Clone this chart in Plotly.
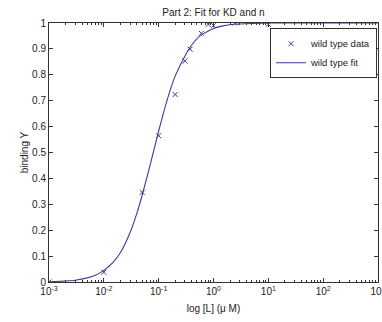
import plotly.graph_objects as go

# measured data (wild type)
data_L = [0.001, 0.01, 0.05, 0.1, 0.2, 0.3, 0.375, 0.6, 0.8, 1.0, 2.5, 10]
data_Y = [0.0, 0.038, 0.346, 0.565, 0.724, 0.853, 0.899, 0.96, 0.995, 0.99, 1.0, 0.995]

# fitted curve
fit_L = [0.001, 0.002, 0.003, 0.005, 0.007, 0.01, 0.015, 0.02, 0.03, 0.04, 0.05, 0.07,
         0.1, 0.15, 0.2, 0.3, 0.4, 0.6, 1, 1.5, 2, 3, 5, 10, 100, 1000]
fit_Y = [0.001, 0.004, 0.007, 0.016, 0.026, 0.045, 0.078, 0.113, 0.19, 0.265, 0.335, 0.452,
         0.583, 0.718, 0.795, 0.872, 0.915, 0.954, 0.979, 0.989, 0.993, 0.996, 0.998, 1.0, 1.0, 1.0]

x_tickvals = [1e-3, 1e-2, 1e-1, 1, 10, 100, 1000]
x_ticktext = ["10<sup>-3</sup>", "10<sup>-2</sup>", "10<sup>-1</sup>", "10<sup>0</sup>",
              "10<sup>1</sup>", "10<sup>2</sup>", "10<sup>3</sup>"]
y_tickvals = [0, 0.1, 0.2, 0.3, 0.4, 0.5, 0.6, 0.7, 0.8, 0.9, 1]
y_ticktext = ["0", "0.1", "0.2", "0.3", "0.4", "0.5", "0.6", "0.7", "0.8", "0.9", "1"]

minor_vals = [m * d for d in [1e-3, 1e-2, 1e-1, 1, 10, 100] for m in range(2, 10)]

color = "#3b3b9c"
font = "Liberation Sans, Arial, sans-serif"

fig = go.Figure()
fig.add_trace(go.Scatter(x=data_L, y=data_Y, mode="markers", name="wild type data",
                         marker=dict(symbol="x-thin", size=5, line=dict(color=color, width=1), color=color)))
fig.add_trace(go.Scatter(x=fit_L, y=fit_Y, mode="lines", name="wild type fit",
                         line=dict(color=color, width=1.1, shape="spline", smoothing=0.5)))

fig.update_layout(
    width=382, height=322,
    margin=dict(l=49, r=4, t=23, b=40, autoexpand=False),
    paper_bgcolor="white", plot_bgcolor="white",
    font=dict(family=font, size=10, color="#222"),
    title=dict(text="Part 2: Fit for KD and n", x=0.5, xref="paper", xanchor="center",
               yref="container", y=1 - 12/322, yanchor="middle", font=dict(size=10, color="#222")),
    showlegend=True,
    legend=dict(x=0.997, xanchor="right", y=0.98, yanchor="top", bgcolor="white",
                bordercolor="#333", borderwidth=1, font=dict(size=9.5, color="#222"),
                itemwidth=30, tracegroupgap=0),
)
fig.update_xaxes(type="log", range=[-3, 3], tickvals=x_tickvals, ticktext=x_ticktext,
                 ticks="inside", ticklen=4, tickcolor="#333", showline=True, linecolor="#333",
                 linewidth=1, mirror="ticks", showgrid=False, zeroline=False, automargin=False,
                 tickfont=dict(size=10), ticklabeloverflow="allow",
                 minor=dict(tickvals=minor_vals, ticks="inside", ticklen=2, tickcolor="#333", showgrid=False),
                 title=dict(text="log [L] (\u03bc M)", font=dict(size=10), standoff=8))
fig.update_yaxes(range=[0, 1], tickvals=y_tickvals, ticktext=y_ticktext,
                 ticks="inside", ticklen=4, tickcolor="#333", showline=True, linecolor="#333",
                 linewidth=1, mirror="ticks", showgrid=False, zeroline=False, automargin=False,
                 tickfont=dict(size=10),
                 title=dict(text="binding Y", font=dict(size=10), standoff=1))

fig.write_html("out.html", config={"displayModeBar": False},
               post_script="document.body.style.margin='0px';document.body.style.overflow='hidden';")
